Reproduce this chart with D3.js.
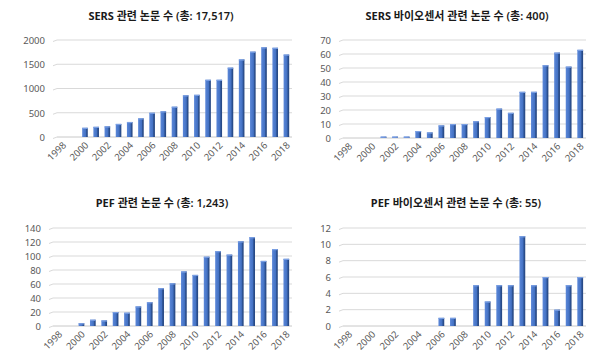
<!DOCTYPE html>
<html><head><meta charset="utf-8">
<script src="https://cdn.jsdelivr.net/npm/d3@7"></script>
<style>
body{margin:0;background:#fff;}
svg{display:block;}
text{font-family:"Noto Sans","Noto Sans CJK KR",sans-serif;}
</style></head><body>
<svg id="c" width="600" height="355"></svg>
<script>
const years = ["1998","1999","2000","2001","2002","2003","2004","2005","2006","2007","2008","2009","2010","2011","2012","2013","2014","2015","2016","2017","2018"];
const yearLabels = ["1998","2000","2002","2004","2006","2008","2010","2012","2014","2016","2018"];
const sersPapers = [0,0,190,210,220,270,310,385,500,530,625,860,870,1180,1180,1430,1600,1760,1850,1840,1700];
const sersBio = [0,0,0,1,1,1,5,4,9,10,10,12,15,21,18,33,33,52,61,51,63];
const pefPapers = [0,0,4,9,8,20,19,28,34,54,61,78,73,99,107,102,121,127,93,110,96];
const pefBio = [0,0,0,0,0,0,0,0,1,1,0,5,3,5,5,11,5,6,2,5,6];
const sersTicks = [0,500,1000,1500,2000];
const sersBioTicks = [0,10,20,30,40,50,60,70];
const pefTicks = [0,20,40,60,80,100,120,140];
const pefBioTicks = [0,2,4,6,8,10,12];
const titles = [
  ["SERS", " 관련 논문 수 (총: 17,517)"],
  ["SERS 바이오센서", " 관련 논문 수 (총: 400)"],
  ["PEF", " 관련 논문 수 (총: 1,243)"],
  ["PEF 바이오센서", " 관련 논문  수 (총: 55)"]
];

const panels = [
  {vals: sersPapers, ticks: sersTicks, title: titles[0], x0: 57, x1: 292, yTop: 40, yBot: 137, tx: 161, ty: 20},
  {vals: sersBio, ticks: sersBioTicks, title: titles[1], x0: 343, x1: 586, yTop: 40, yBot: 138, tx: 457, ty: 20},
  {vals: pefPapers, ticks: pefTicks, title: titles[2], x0: 53, x1: 292, yTop: 228, yBot: 326, tx: 162, ty: 207},
  {vals: pefBio, ticks: pefBioTicks, title: titles[3], x0: 343, x1: 586, yTop: 228, yBot: 326, tx: 456, ty: 207}
];

const svg = d3.select("#c");
const defs = svg.append("defs");
const grad = defs.append("linearGradient").attr("id","barg").attr("x1","0").attr("x2","1").attr("y1","0").attr("y2","0");
grad.append("stop").attr("offset","0").attr("stop-color","#5b87d8");
grad.append("stop").attr("offset","0.6").attr("stop-color","#4472c4");
grad.append("stop").attr("offset","0.75").attr("stop-color","#2f5597");
grad.append("stop").attr("offset","1").attr("stop-color","#23437d");

panels.forEach(p => {
  const g = svg.append("g");
  const x = d3.scaleBand().domain(years).range([p.x0, p.x1]).paddingInner(0.5).paddingOuter(0.25);
  const yMax = p.ticks[p.ticks.length-1];
  const y = d3.scaleLinear().domain([0, yMax]).range([p.yBot, p.yTop]);

  // gridlines
  const grid = g.append("g");
  p.ticks.forEach(t => {
    grid.append("line").attr("x1", p.x0).attr("x2", p.x1).attr("y1", y(t)).attr("y2", y(t))
      .attr("stroke", t === 0 ? "#c8c8c8" : "#d9d9d9").attr("stroke-width", 1);
    grid.append("line").attr("x1", p.x0 - 4).attr("x2", p.x0).attr("y1", y(t) + 1.5).attr("y2", y(t))
      .attr("stroke", "#d9d9d9").attr("stroke-width", 1);
  });

  // y axis
  const ya = d3.axisLeft(y).tickValues(p.ticks).tickSize(0).tickPadding(0).tickFormat(d3.format("d"));
  const yg = g.append("g").attr("transform", `translate(${p.x0 - 12},0)`).call(ya);
  yg.select(".domain").remove();
  yg.selectAll("text").attr("fill","#595959").style("font-size","9.5px").attr("dy","0.35em");

  // x axis
  const xa = d3.axisBottom(x).tickValues(yearLabels).tickSize(0).tickPadding(0);
  const xg = g.append("g").attr("transform", `translate(0,${p.yBot + 9})`).call(xa);
  xg.select(".domain").remove();
  xg.selectAll("text").attr("fill","#595959").style("font-size","9.5px")
    .attr("text-anchor","end").attr("dy","0.3em").attr("x", 3).attr("y", 0)
    .attr("transform","rotate(-45)");

  // bars
  const data = years.map((yr,i)=>({yr, v:p.vals[i]})).filter(d=>d.v>0);
  const bw = x.bandwidth();
  const bars = g.append("g").selectAll("g").data(data).join("g");
  bars.append("rect").attr("x", d=>x(d.yr)).attr("y", d=>y(d.v)).attr("width", bw)
    .attr("height", d=>p.yBot - y(d.v)).attr("fill","url(#barg)");
  bars.append("rect").attr("x", d=>x(d.yr)).attr("y", d=>y(d.v)).attr("width", bw)
    .attr("height", 1.2).attr("fill","#7a9fe3");

  // title
  const tt = svg.append("text").attr("x", p.tx).attr("y", p.ty).attr("text-anchor","middle")
    .style("font-size","11px").attr("fill","#1a1a1a");
  tt.append("tspan").attr("font-weight","bold").text(p.title[0]);
  tt.append("tspan").attr("font-weight","600").text(p.title[1]);
});
</script>
</body></html>
